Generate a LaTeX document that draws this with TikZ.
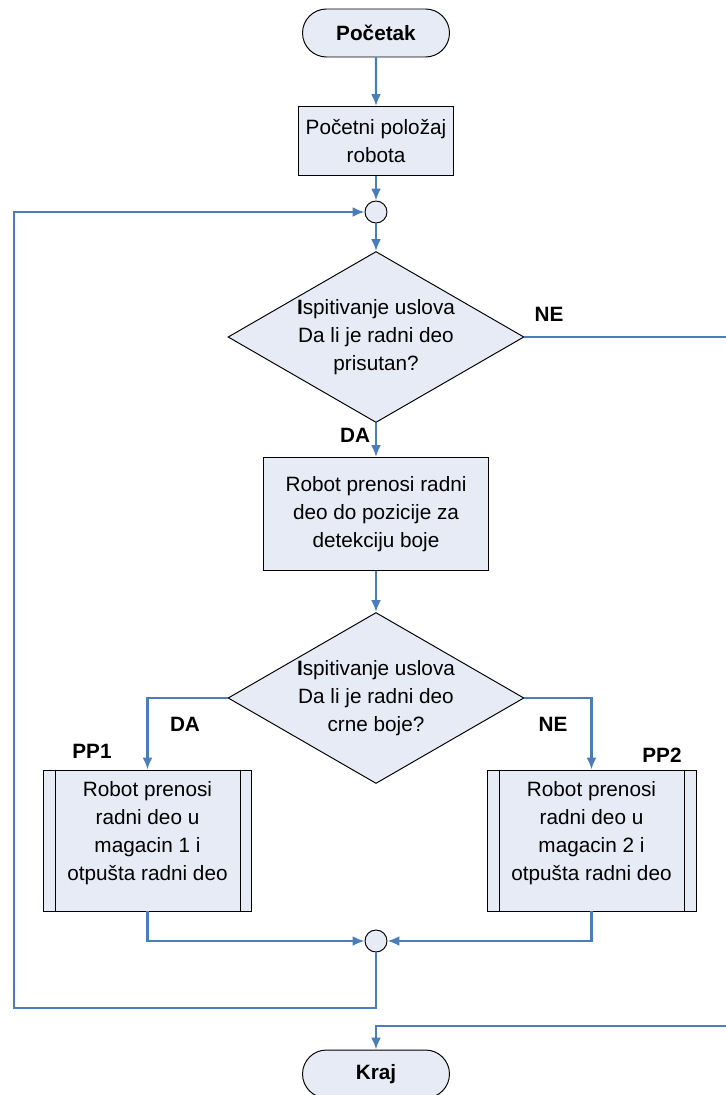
\documentclass[tikz,border=0pt]{standalone}
\usepackage{fontspec}
\setmainfont{Liberation Sans}
\usepackage{xcolor}
\usetikzlibrary{arrows.meta,shapes.geometric,shapes.misc}
\definecolor{flowblue}{HTML}{4A7EBB}
\definecolor{boxfill}{HTML}{E6EBF5}

\begin{document}
\begin{tikzpicture}[x=0.02cm, y=-0.02cm, line width=1.3pt, >={Latex[length=2.4mm,width=2mm]},
  every node/.style={font=\fontsize{11.8}{16}\selectfont},
  box/.style={draw=black, line width=0.55pt, fill=boxfill, align=center, inner sep=0pt},
  terminal/.style={box, rounded rectangle, minimum width=2.94cm, minimum height=0.96cm,
    font=\fontsize{11.8}{16}\selectfont\bfseries},
  process/.style={box, rectangle},
  decision/.style={box, diamond, aspect=1.73, minimum width=5.92cm, minimum height=3.42cm},
  joint/.style={box, circle, minimum size=0.44cm},
  tag/.style={inner sep=0pt, font=\fontsize{11.8}{16}\selectfont\bfseries},
  flow/.style={flowblue, line width=1.3pt}]
  \useasboundingbox (0,0) rectangle (726,1095);

  \node[terminal] (start) at (376,33) {Početak};
  \node[process, minimum width=3.1cm, minimum height=1.38cm] (init) at (376,141)
    {Početni položaj\\robota};
  \node[joint] (j1) at (376,212) {};
  \node[decision] (q1) at (376,337)
    {\textbf{I}spitivanje uslova\\Da li je radni deo\\prisutan?};
  \node[process, minimum width=4.5cm, minimum height=2.26cm] (move) at (376,514)
    {Robot prenosi radni\\deo do pozicije za\\detekciju boje};
  \node[decision] (q2) at (376,698)
    {\textbf{I}spitivanje uslova\\Da li je radni deo\\crne boje?};
  \node[process, minimum width=4.18cm, minimum height=2.82cm] (pp1) at (147.5,840.5) {};
  \node[process, minimum width=4.18cm, minimum height=2.82cm] (pp2) at (591.5,840.5) {};
  \node[align=center] (pp1text) at (147.5,833)
    {Robot prenosi\\radni deo u\\magacin 1 i\\otpušta radni deo};
  \node[align=center] (pp2text) at (591.5,833)
    {Robot prenosi\\radni deo u\\magacin 2 i\\otpušta radni deo};
  \node[joint] (j2) at (376,941) {};
  \node[terminal] (stop) at (376,1074) {Kraj};

  \foreach \p in {pp1,pp2} {
    \draw[line width=0.55pt] ([xshift=0.26cm]\p.north west) -- ([xshift=0.26cm]\p.south west);
    \draw[line width=0.55pt] ([xshift=-0.24cm]\p.north east) -- ([xshift=-0.24cm]\p.south east);
  }

  \node[tag] (ne1) at (549,314) {NE};
  \node[tag] (da1) at (355,435) {DA};
  \node[tag] (da2) at (185,724) {DA};
  \node[tag] (ne2) at (553,724) {NE};
  \node[tag] (pp1tag) at (92,751) {PP1};
  \node[tag] (pp2tag) at (662,755) {PP2};

  \coordinate (loopbot) at (14,1008);
  \coordinate (neright) at (730,337);
  \coordinate (nebot) at (730,1026);

  \draw[flow,->] (start) -- (init);
  \draw[flow,->] (init) -- (j1);
  \draw[flow,->] (j1) -- (q1);
  \draw[flow,->] (q1) -- (move);
  \draw[flow,->] (move) -- (q2);
  \draw[flow,->] (q2.west) -| (pp1.north);
  \draw[flow,->] (q2.east) -| (pp2.north);
  \draw[flow,->] (pp1.south) |- (j2.west);
  \draw[flow,->] (pp2.south) |- (j2.east);
  \draw[flow,->] (j2.south) |- (loopbot) |- (j1.west);
  \draw[flow,->] (q1.east) -- (neright) -- (nebot) -| (stop.north);
\end{tikzpicture}
\end{document}
